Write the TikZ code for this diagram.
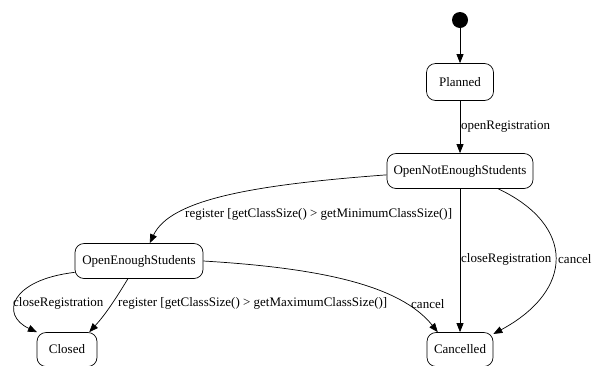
\documentclass[tikz,border=0pt]{standalone}
\usepackage{fontspec}
\setmainfont{Liberation Serif}
\usetikzlibrary{arrows.meta}
\begin{document}
\begin{tikzpicture}[x=1pt,y=-1pt,
  every node/.style={font=\fontsize{13}{15}\selectfont},
  state/.style={draw, line width=0.7pt, rounded corners=9pt, inner sep=2pt, minimum height=35pt},
  lbl/.style={anchor=west, inner sep=0pt},
  tr/.style={draw, line width=0.7pt, -{Triangle[length=9pt,width=7pt]}}
]
\useasboundingbox (0,0) rectangle (593,365);
\node[circle, fill=black, minimum size=16pt, inner sep=0pt] (init) at (460,20) {};
\node[state, minimum width=67pt, minimum height=37pt] (planned) at (460,82) {Planned};
\node[state, minimum width=146pt] (ones) at (460,171) {OpenNotEnoughStudents};
\node[state, minimum width=128pt] (oes) at (139,261) {OpenEnoughStudents};
\node[state, minimum width=60pt, minimum height=34pt] (closed) at (67,349.5) {Closed};
\node[state, minimum width=66pt, minimum height=34pt] (canc) at (460,349.5) {Cancelled};

\draw[tr] (init) -- (planned.north);
\draw[tr] (planned.south) -- (ones.north);
\draw[tr] (ones.183) .. controls (250,185) and (170,200) .. (oes.59);
\draw[tr] (ones.south) -- (canc.north);
\draw[tr] (ones.-25) .. controls (575,225) and (575,290) .. (canc.25);
\draw[tr] (oes.east) .. controls (320,268) and (400,285) .. (canc.142);
\draw[tr] (oes.190) .. controls (10,280) and (0,315) .. (closed.150);
\draw[tr] (oes.238) .. controls (115,300) and (105,315) .. (closed.38);

\node[lbl] (l1) at (461,127) {openRegistration};
\node[lbl] (l2) at (185,214) {register [getClassSize() > getMinimumClassSize()]};
\node[lbl] (l3) at (461,259) {closeRegistration};
\node[lbl] (l4) at (558,259) {cancel};
\node[lbl] (l5) at (13,303) {closeRegistration};
\node[lbl] (l6) at (118,303) {register [getClassSize() > getMaximumClassSize()]};
\node[lbl] (l7) at (411,304) {cancel};
\end{tikzpicture}
\end{document}
